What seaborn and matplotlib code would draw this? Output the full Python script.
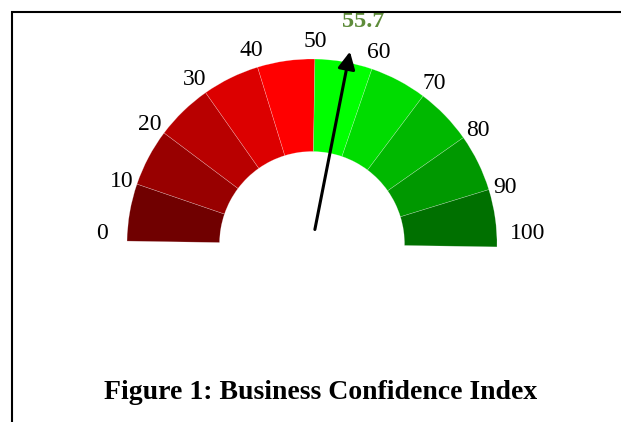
import numpy as np
import matplotlib
matplotlib.use("Agg")
import matplotlib.pyplot as plt
from matplotlib.patches import Wedge, Rectangle
import seaborn as sns

# datos del indicador
bounds = [0, 10, 20, 30, 40, 50, 60, 70, 80, 90, 100]
tick_labels = ["0", "10", "20", "30", "40", "50", "60", "70", "80", "90", "100"]
sector_colors = ["#700000", "#980000", "#b80000", "#dc0000", "#ff0000",
                 "#00ff00", "#00dc00", "#00b800", "#009800", "#007000"]
value = 55.7
title = "Figure 1: Business Confidence Index"

sns.set_style("white")
plt.rcParams["font.family"] = ["Liberation Serif", "DejaVu Serif"]

tilt = -0.9  # el indicador esta un poco girado en el original
vmin, vmax = bounds[0], bounds[-1]

def to_angle(v):
    return 180 - (v - vmin) / (vmax - vmin) * 180 + tilt

fig = plt.figure(figsize=(6.21, 4.22), dpi=100)
ax = fig.add_axes([0, 0, 1, 1])
# escala: centro en (312, 244) px, radio 185 px
ax.set_xlim(-312 / 185, (621 - 312) / 185)
ax.set_ylim((244 - 422) / 185, 244 / 185)
ax.set_aspect("equal")
ax.axis("off")

r_out, width = 1.0, 0.5
for lo, hi, col in zip(bounds[:-1], bounds[1:], sector_colors):
    ax.add_patch(Wedge((0, 0), r_out, to_angle(hi), to_angle(lo), width=width,
                       facecolor=col, edgecolor=(1, 1, 1, 0.35), lw=0.4))

# etiquetas de la escala
for b, lab in zip(bounds, tick_labels):
    a = to_angle(b)
    end = a < 3.5 or a > 176.5
    a = min(max(a, 3.5), 176.5)
    rad = np.radians(a)
    r = 1.08 + 0.03 * np.sin(rad)
    if end:
        r += 0.04 + 0.015 * len(lab)
    ax.text(r * np.cos(rad), r * np.sin(rad) - 0.015, lab, ha="center", va="center",
            fontsize=17, color="black")

# aguja
ang = np.radians(to_angle(value))
ax.annotate("", xy=(1.06 * np.cos(ang), 1.06 * np.sin(ang)),
            xytext=(0.08 * np.cos(ang), 0.08 * np.sin(ang)),
            arrowprops=dict(arrowstyle="-|>", lw=2.2, color="black",
                            mutation_scale=26, shrinkA=0, shrinkB=0))
ax.text(1.06 * np.cos(ang) + 0.07, 1.06 * np.sin(ang) + 0.165, f"{value}",
        ha="center", va="center", fontsize=17.5, fontweight="bold", color="#5e8c3a")

fig.text(0.517, 0.071, title, ha="center", va="center", fontsize=20,
         fontweight="bold", color="black")

# marco
fig.add_artist(Rectangle((12 / 621, -0.1), 1.2, 1.1 - 12 / 422,
                         transform=fig.transFigure, fill=False,
                         edgecolor="black", lw=1.5))

fig.savefig("out.png", dpi=100)
